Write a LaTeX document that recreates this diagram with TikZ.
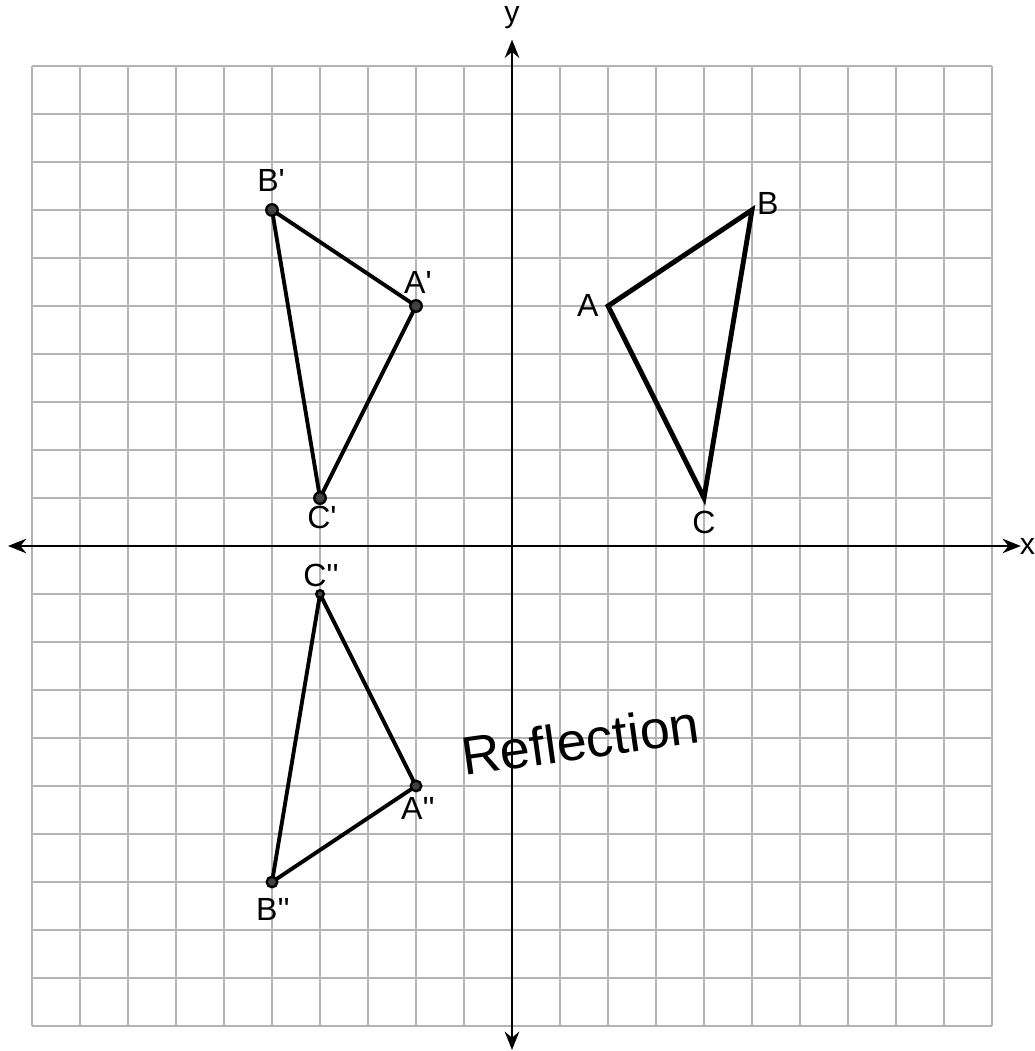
\documentclass[tikz,border=0pt]{standalone}
\usepackage{fontspec}
\setmainfont{Liberation Sans}
\newfontfamily\handfont{Liberation Sans}[Ligatures=ResetAll]
\usetikzlibrary{arrows.meta}
\definecolor{gridgray}{HTML}{B4B4B4}
\tikzset{
  gridline/.style={draw=gridgray,line width=1.7pt},
  axis/.style={draw=black,line width=1.6pt,{Stealth[length=0.38cm,width=0.3cm]}-{Stealth[length=0.38cm,width=0.3cm]}},
  printtri/.style={draw=black,line width=2.9pt,line join=miter},
  handtri/.style={draw=black,line width=2.3pt,line join=round},
  printlbl/.style={font=\fontsize{19}{21}\selectfont},
  axlbl/.style={font=\fontsize{18}{20}\selectfont},
  handlbl/.style={font=\handfont\fontsize{19}{21}\selectfont},
  hdot/.style={circle,fill=black!75,draw=black,line width=1.4pt,inner sep=0pt,minimum size=0.24cm}
}
\begin{document}
\begin{tikzpicture}[x=1cm,y=1cm]
\useasboundingbox (-10.667,-10.521) rectangle (10.875,11.375);
\fill[white] (-10.667,-10.521) rectangle (10.875,11.375);
% grid
\foreach \i in {-10,...,10} {
  \draw[gridline] (\i,-10) -- (\i,10);
  \draw[gridline] (-10,\i) -- (10,\i);
}
% axes
\coordinate (xl) at (-10.5,0);
\coordinate (xr) at (10.6,0);
\coordinate (yb) at (0,-10.5);
\coordinate (yt) at (0,10.55);
\draw[axis] (xl) -- (xr);
\draw[axis] (yb) -- (yt);
\node[axlbl] (xlab) at (10.74,0) {x};
\node[axlbl] (ylab) at (0,11.0) {y};
% original triangle
\coordinate (A) at (2,5);
\coordinate (B) at (5,7);
\coordinate (C) at (4,1);
\draw[printtri] (A) -- (B) -- (C) -- cycle;
\node[printlbl] (Alab) at (1.58,5.02) {A};
\node[printlbl] (Blab) at (5.33,7.13) {B};
\node[printlbl] (Clab) at (4,0.5) {C};
% first image
\coordinate (A1) at (-2,5);
\coordinate (B1) at (-5,7);
\coordinate (C1) at (-4,1);
\draw[handtri] (A1) -- (B1) -- (C1) -- cycle;
\node[hdot] (dA1) at (A1) {};
\node[hdot] (dB1) at (B1) {};
\node[hdot] (dC1) at (C1) {};
\node[handlbl] (A1lab) at (-1.96,5.5) {A'};
\node[handlbl] (B1lab) at (-5.02,7.62) {B'};
\node[handlbl] (C1lab) at (-3.96,0.6) {C'};
% second image
\coordinate (A2) at (-2,-5);
\coordinate (B2) at (-5,-7);
\coordinate (C2) at (-4,-1);
\draw[handtri] (A2) -- (B2) -- (C2) -- cycle;
\node[hdot,minimum size=0.22cm] (dA2) at (A2) {};
\node[hdot,minimum size=0.22cm] (dB2) at (B2) {};
\node[hdot,minimum size=0.16cm] (dC2) at (C2) {};
\node[handlbl] (A2lab) at (-1.96,-5.46) {A''};
\node[handlbl] (B2lab) at (-4.98,-7.58) {B''};
\node[handlbl] (C2lab) at (-3.98,-0.62) {C''};
% handwritten word
\node[font=\handfont\fontsize{32}{34}\selectfont,rotate=8] (refl) at (1.42,-4.04) {Reflection};
\end{tikzpicture}
\end{document}
